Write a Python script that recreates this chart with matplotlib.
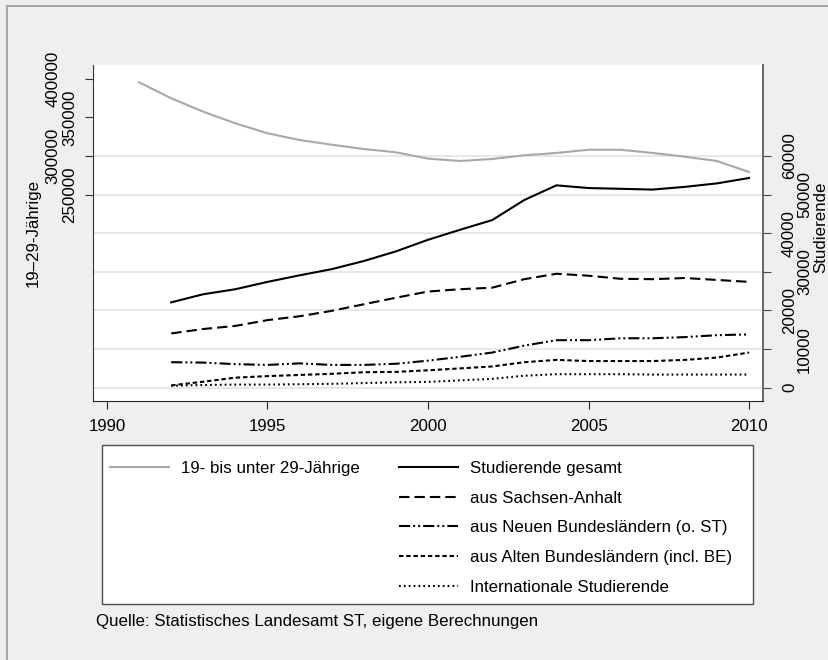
import matplotlib
matplotlib.use("Agg")
import matplotlib.pyplot as plt
from matplotlib.lines import Line2D
from matplotlib.patches import Rectangle

plt.rcParams['font.family'] = ['Liberation Sans', 'DejaVu Sans']
plt.rcParams['lines.scale_dashes'] = False

# ---------------- data ----------------
years_pop = list(range(1991, 2011))
pop_19_29 = [395400, 374700, 357300, 342300, 329400, 320700, 314600, 309000, 304800, 296600,
             293500, 296100, 300900, 303900, 308100, 308100, 303900, 299100, 293500, 279300]

years_stud = list(range(1992, 2011))
stud_total = [22100, 24200, 25500, 27400, 29100, 30700, 32800, 35300, 38300, 40900,
              43400, 48600, 52400, 51700, 51500, 51300, 52000, 52900, 54300]
stud_sa = [14050, 15200, 16000, 17500, 18500, 19900, 21600, 23300, 24900, 25500,
           25900, 28100, 29500, 29000, 28200, 28100, 28400, 27900, 27400]
stud_nbl = [6600, 6500, 6100, 5900, 6300, 5900, 5900, 6200, 7000, 8000,
            9100, 10900, 12300, 12300, 12800, 12800, 13100, 13600, 13800]
stud_abl = [600, 1550, 2600, 3000, 3300, 3600, 4000, 4100, 4500, 5000,
            5500, 6600, 7200, 6900, 6900, 6900, 7200, 7800, 9100]
stud_intl = [500, 700, 800, 800, 900, 1000, 1200, 1400, 1500, 1900,
             2300, 3100, 3500, 3500, 3500, 3400, 3400, 3400, 3400]

x_ticks = [1990, 1995, 2000, 2005, 2010]
right_ticks = [0, 10000, 20000, 30000, 40000, 50000, 60000]
left_ticks = [250000, 300000, 350000, 400000]

labels = ['19- bis unter 29-Jährige', 'Studierende gesamt', 'aus Sachsen-Anhalt',
          'aus Neuen Bundesländern (o. ST)', 'aus Alten Bundesländern (incl. BE)',
          'Internationale Studierende']
left_title = '19–29-Jährige'
right_title = 'Studierende'
source = 'Quelle: Statistisches Landesamt ST, eigene Berechnungen'

# ---------------- layout ----------------
W, H = 829, 660
FS = 12.2
def fx(p): return p / W
def fy(p): return 1 - p / H

fig = plt.figure(figsize=(W / 100, H / 100), dpi=100, facecolor='#efefef')

ax = fig.add_axes([fx(93), fy(401), (763 - 93) / W, (401 - 65) / H])
ax2 = ax.twinx()
ax.yaxis.tick_right()
ax.yaxis.set_label_position('right')
ax2.yaxis.tick_left()
ax2.yaxis.set_label_position('left')

ax.set_facecolor('white')
ax.set_xlim(1989.564, 2010.436)
ax.set_ylim(-3444, 83560)
ax2.set_ylim(-3444 * 5, 83560 * 5)

gray = '#a8a8a8'
LW = 1.5
styles = {
    'total': dict(color='black', lw=LW, ls='-'),
    'sa': dict(color='black', lw=LW, dashes=(7.5, 3.6)),
    'nbl': dict(color='black', lw=LW, dashes=(8.0, 2.2, 1.4, 2.2, 1.4, 2.2)),
    'abl': dict(color='black', lw=LW, dashes=(3.2, 2.0)),
    'intl': dict(color='black', lw=LW, dashes=(1.3, 2.2)),
}

ax.plot(years_stud, stud_total, **styles['total'])
ax.plot(years_stud, stud_sa, **styles['sa'])
ax.plot(years_stud, stud_nbl, **styles['nbl'])
ax.plot(years_stud, stud_abl, **styles['abl'])
ax.plot(years_stud, stud_intl, **styles['intl'])
ax2.plot(years_pop, pop_19_29, color=gray, lw=LW)

# grid
ax.set_axisbelow(True)
ax.yaxis.grid(True, color='#e3e3e3', lw=1.2)
ax.xaxis.grid(False)

# spines
ax.spines['top'].set_visible(False)
ax.spines['left'].set_color('#333333')
ax.spines['bottom'].set_color('#222222')
ax.spines['right'].set_color('#666666')
ax.spines['right'].set_linewidth(1.4)
for s in ax2.spines.values():
    s.set_visible(False)

# ticks
ax.set_xticks(x_ticks)
ax.set_xticklabels([str(v) for v in x_ticks])
ax.tick_params(axis='x', length=5.8, width=0.8, pad=7.2, labelsize=FS, color='#222222')

ax.set_yticks(right_ticks)
ax.set_yticklabels([str(v) for v in right_ticks])
ax.tick_params(axis='y', left=False, labelleft=False, right=True, labelright=True,
               length=5.8, width=0.8, labelsize=FS, labelrotation=90, color='#444444')
ax2.set_yticks(left_ticks)
ax2.set_yticklabels([str(v) for v in left_ticks])
ax2.tick_params(axis='y', left=True, labelleft=True, right=False, labelright=False,
                length=5.8, width=0.8, labelsize=FS, labelrotation=90, color='#333333')

for lbl in ax.get_yticklabels() + ax2.get_yticklabels():
    lbl.set_va('center')

# alternate label positions (inner / outer)
for i, t in enumerate(ax.yaxis.get_major_ticks()):
    t.set_pad(7.9 if i % 2 == 0 else 18.8)
for i, t in enumerate(ax2.yaxis.get_major_ticks()):
    t.set_pad(5.3 if i % 2 == 0 else 17.6)

# axis titles
fig.text(fx(33), fy(233), left_title, rotation=90, ha='center', va='center', fontsize=FS)
fig.text(fx(825.3), fy(227), right_title, rotation=90, rotation_mode='anchor',
         ha='center', va='baseline', fontsize=FS)

# legend box
fig.add_artist(Rectangle((fx(102), fy(604)), (753.5 - 102) / W, (604 - 445) / H,
                         transform=fig.transFigure, facecolor='white',
                         edgecolor='#4d4d4d', lw=1.0, zorder=1))

leg_kw = dict(loc='upper left', frameon=False, borderpad=0, borderaxespad=0,
              handlelength=59 / 17, handletextpad=12.5 / 17, labelspacing=0.875,
              fontsize=FS, bbox_transform=fig.transFigure)
h1 = [Line2D([], [], color=gray, lw=LW)]
fig.legend(h1, labels[:1], bbox_to_anchor=(fx(110), fy(460.7)), **leg_kw)
h2 = [Line2D([], [], **styles[k]) for k in ['total', 'sa', 'nbl', 'abl', 'intl']]
fig.legend(h2, labels[1:], bbox_to_anchor=(fx(399), fy(460.7)), **leg_kw)

# source note
fig.text(fx(96), fy(621.7), source, ha='left', va='center', fontsize=FS)

# outer frame (top and left edges)
fig.add_artist(Line2D([fx(7), fx(7)], [0, fy(5.7)], transform=fig.transFigure,
                      color='#a0a0a0', lw=1.3))
fig.add_artist(Line2D([fx(7), 1], [fy(5.7), fy(5.7)], transform=fig.transFigure,
                      color='#a0a0a0', lw=1.3))

fig.savefig('out.png', dpi=100, facecolor=fig.get_facecolor())
